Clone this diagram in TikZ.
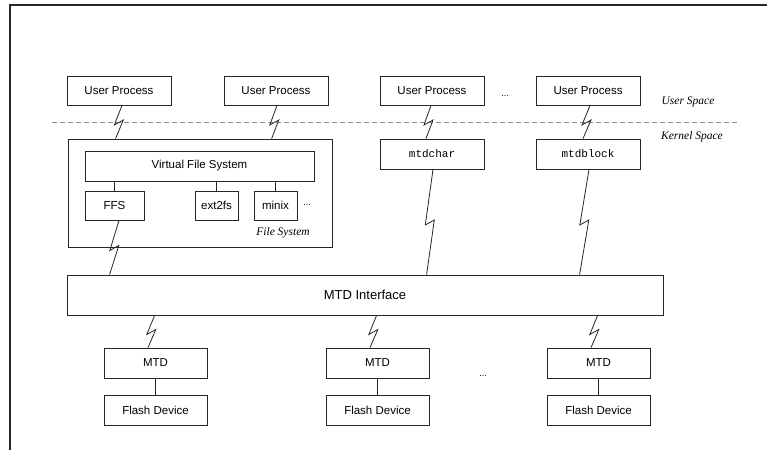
\documentclass[tikz,border=0pt]{standalone}
\usepackage{fontspec}
\setmainfont{Liberation Sans}
\setmonofont{Liberation Mono}
\newfontfamily\timesfont{Liberation Serif}
\usetikzlibrary{calc}
\begin{document}
\begin{tikzpicture}[x=1pt,y=-1pt,
  box/.style={draw=black!85, line width=0.8pt, inner sep=0pt, font=\fontsize{11.5}{13}\selectfont},
  upbox/.style={box, minimum width=104, minimum height=29},
  drvbox/.style={box, minimum width=104, minimum height=30, font=\ttfamily\fontsize{11}{13}\selectfont},
  devbox/.style={box, minimum width=103, minimum height=30},
  fsbox/.style={box, minimum width=43, minimum height=29},
  lbl/.style={font=\timesfont\itshape\fontsize{11.5}{13}\selectfont, inner sep=0pt},
  dots/.style={font=\fontsize{9}{10}\selectfont, inner sep=0pt},
  conn/.style={draw=black!85, line width=0.8pt},
  zz/.style={conn, to path={-- ($(\tikztostart)!0.5!(\tikztotarget)+(-4.5,3)$) -- ($(\tikztostart)!0.5!(\tikztotarget)+(4.5,-2)$) -- (\tikztotarget)}}]
\useasboundingbox (0,0) rectangle (767,450);
% frame
\draw[line width=2pt, black!85] (9.5,450) -- (9.5,5) -- (767,5);
% separator
\draw[black!45, line width=0.8pt, dash pattern=on 5pt off 3pt] (52,122) -- (740,122);
% user processes
\node[upbox] (up1) at (119,90.5) {User Process};
\node[upbox] (up2) at (276,90.5) {User Process};
\node[upbox] (up3) at (432,90.5) {User Process};
\node[upbox] (up4) at (588,90.5) {User Process};
\node[dots] (d1) at (505,96) {...};
\node[lbl] (us) at (688,102) {User Space};
\node[lbl] (ks) at (692,137) {Kernel Space};
% file system
\node[box, minimum width=264, minimum height=108] (fs) at (200,193) {};
\node[box, minimum width=229, minimum height=30] (vfs) at (199.5,166) {Virtual File System};
\node[box, minimum width=59, minimum height=29] (ffs) at (114.5,205.5) {FFS};
\node[fsbox] (ext) at (216.5,205.5) {ext2fs};
\node[fsbox] (minix) at (275.5,205.5) {minix};
\node[dots] (d2) at (307,205) {...};
\node[lbl] (fsl) at (283,233) {File System};
% char/block drivers
\node[drvbox] (mchar) at (432,154) {mtdchar};
\node[drvbox] (mblock) at (588,154) {mtdblock};
% MTD interface
\node[box, minimum width=596, minimum height=40, font=\fontsize{13}{15}\selectfont] (mif) at (365,295) {MTD Interface};
% MTDs and flash
\node[devbox] (mtd1) at (155.5,363) {MTD};
\node[devbox] (mtd2) at (377.5,363) {MTD};
\node[devbox] (mtd3) at (598.5,363) {MTD};
\node[devbox] (fl1) at (155.5,410) {Flash Device};
\node[devbox] (fl2) at (377.5,410) {Flash Device};
\node[devbox] (fl3) at (598.5,410) {Flash Device};
\node[dots] (d3) at (483,376) {...};
% connectors
\draw[zz] ($(up1.south)+(3,0)$) to ($(fs.north west)+(48,0)$);
\draw[zz] ($(up2.south)+(1,0)$) to ($(fs.north west)+(204,0)$);
\draw[zz] ($(up3.south)+(-1,0)$) to ($(mchar.north)+(-6,0)$);
\draw[zz] ($(up4.south)+(2,0)$) to ($(mblock.north)+(-5,0)$);
\draw[conn] (ffs.north |- vfs.south) -- (ffs.north);
\draw[conn] (ext.north |- vfs.south) -- (ext.north);
\draw[conn] (minix.north |- vfs.south) -- (minix.north);
\draw[zz] ($(ffs.south)+(4.5,0)$) to ($(mif.north west)+(43,0)$);
\draw[zz] ($(mchar.south)+(1,0)$) to ($(mif.north west)+(360,0)$);
\draw[zz] ($(mblock.south)+(1,0)$) to ($(mif.north west)+(513,0)$);
\draw[zz] ($(mif.south west)+(88,0)$) to ($(mtd1.north)+(-7.5,0)$);
\draw[zz] ($(mif.south west)+(310,0)$) to ($(mtd2.north)+(-7.5,0)$);
\draw[zz] ($(mif.south west)+(531,0)$) to ($(mtd3.north)+(-7.5,0)$);
\draw[conn] (mtd1) -- (fl1);
\draw[conn] (mtd2) -- (fl2);
\draw[conn] (mtd3) -- (fl3);
\end{tikzpicture}
\end{document}
